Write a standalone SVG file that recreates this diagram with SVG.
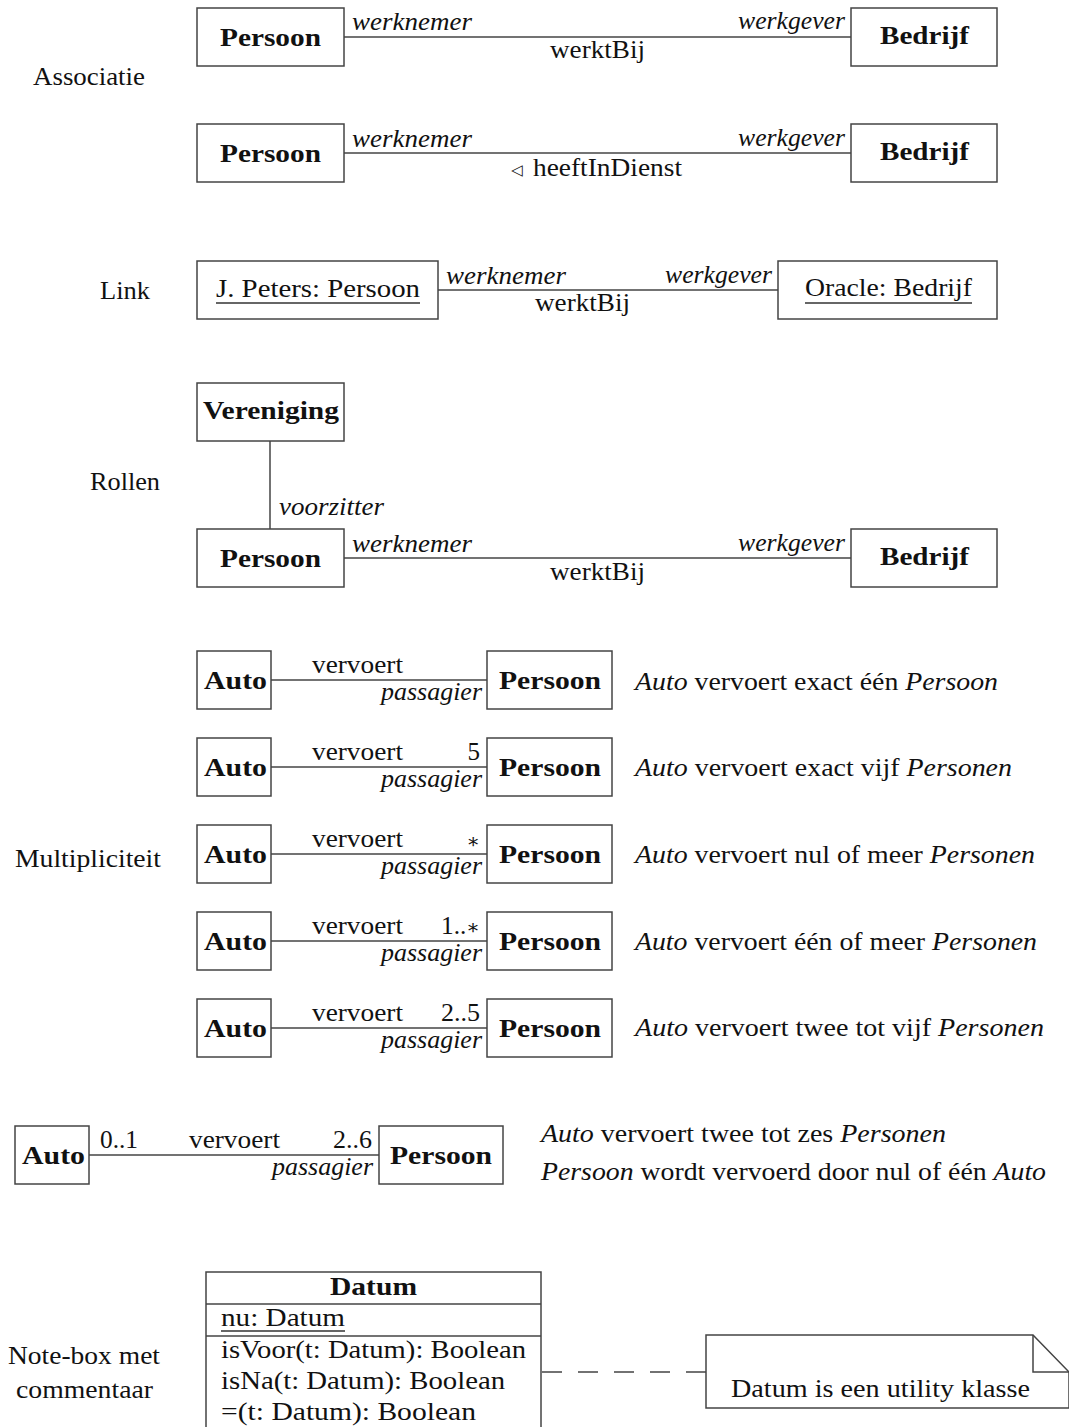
<svg xmlns="http://www.w3.org/2000/svg" width="1069" height="1427" viewBox="0 0 1069 1427">
  <style>
    .box { fill: #ffffff; stroke: #444444; stroke-width: 1.5; }
    .edge { fill: none; stroke: #444444; stroke-width: 1.5; }
    .dash { fill: none; stroke: #444444; stroke-width: 1.5; stroke-dasharray: 20 16; }
    text { font-family: "Liberation Serif", "DejaVu Serif", serif; font-size: 25px; fill: #111111; }
    .b { font-weight: bold; }
    .i { font-style: italic; }
    .u { fill: none; stroke: #333333; stroke-width: 1.3; }
    .sym { font-family: "DejaVu Sans", sans-serif; font-size: 15px; }
    .ast { font-family: "DejaVu Serif", serif; font-size: 20px; }
  </style>

  <!-- section captions -->
  <g id="captions">
    <text x="33" y="85" textLength="112" lengthAdjust="spacingAndGlyphs">Associatie</text>
    <text x="100" y="299" textLength="50" lengthAdjust="spacingAndGlyphs">Link</text>
    <text x="90" y="490" textLength="70" lengthAdjust="spacingAndGlyphs">Rollen</text>
    <text x="15" y="867" textLength="146" lengthAdjust="spacingAndGlyphs">Multipliciteit</text>
    <text x="8" y="1364" textLength="152" lengthAdjust="spacingAndGlyphs">Note-box met</text>
    <text x="16" y="1398" textLength="137" lengthAdjust="spacingAndGlyphs">commentaar</text>
  </g>

  <!-- connectors -->
  <g id="connectors">
    <line class="edge" x1="344" y1="37" x2="851" y2="37"/>
    <line class="edge" x1="344" y1="153" x2="851" y2="153"/>
    <line class="edge" x1="438" y1="290" x2="778" y2="290"/>
    <line class="edge" x1="270" y1="441" x2="270" y2="529"/>
    <line class="edge" x1="344" y1="558" x2="851" y2="558"/>
    <line class="edge" x1="271" y1="680" x2="487" y2="680"/>
    <line class="edge" x1="271" y1="767" x2="487" y2="767"/>
    <line class="edge" x1="271" y1="854" x2="487" y2="854"/>
    <line class="edge" x1="271" y1="941" x2="487" y2="941"/>
    <line class="edge" x1="271" y1="1028" x2="487" y2="1028"/>
    <line class="edge" x1="89" y1="1155" x2="379" y2="1155"/>
    <line class="dash" x1="542" y1="1372" x2="706" y2="1372"/>
  </g>

  <!-- connector labels -->
  <g id="connector-labels">
    <!-- association 1 -->
    <text class="i" x="352" y="30" textLength="120" lengthAdjust="spacingAndGlyphs">werknemer</text>
    <text class="i" x="738" y="29" textLength="107" lengthAdjust="spacingAndGlyphs">werkgever</text>
    <text x="550" y="58" textLength="95" lengthAdjust="spacingAndGlyphs">werktBij</text>
    <!-- association 2 -->
    <text class="i" x="352" y="147" textLength="120" lengthAdjust="spacingAndGlyphs">werknemer</text>
    <text class="i" x="738" y="146" textLength="107" lengthAdjust="spacingAndGlyphs">werkgever</text>
    <text class="sym" x="511" y="175">◁</text>
    <text x="533" y="176" textLength="149" lengthAdjust="spacingAndGlyphs">heeftInDienst</text>
    <!-- link -->
    <text class="i" x="446" y="284" textLength="120" lengthAdjust="spacingAndGlyphs">werknemer</text>
    <text class="i" x="665" y="283" textLength="107" lengthAdjust="spacingAndGlyphs">werkgever</text>
    <text x="535" y="311" textLength="95" lengthAdjust="spacingAndGlyphs">werktBij</text>
    <!-- roles -->
    <text class="i" x="279" y="515" textLength="105" lengthAdjust="spacingAndGlyphs">voorzitter</text>
    <text class="i" x="352" y="552" textLength="120" lengthAdjust="spacingAndGlyphs">werknemer</text>
    <text class="i" x="738" y="551" textLength="107" lengthAdjust="spacingAndGlyphs">werkgever</text>
    <text x="550" y="580" textLength="95" lengthAdjust="spacingAndGlyphs">werktBij</text>
    <!-- multiplicities -->
    <text x="312" y="673" textLength="91" lengthAdjust="spacingAndGlyphs">vervoert</text>
    <text class="i" x="381" y="700" textLength="101" lengthAdjust="spacingAndGlyphs">passagier</text>
    <text x="312" y="760" textLength="91" lengthAdjust="spacingAndGlyphs">vervoert</text>
    <text x="480" y="760" text-anchor="end">5</text>
    <text class="i" x="381" y="787" textLength="101" lengthAdjust="spacingAndGlyphs">passagier</text>
    <text x="312" y="847" textLength="91" lengthAdjust="spacingAndGlyphs">vervoert</text>
    <text class="ast" x="480" y="848" text-anchor="end">∗</text>
    <text class="i" x="381" y="874" textLength="101" lengthAdjust="spacingAndGlyphs">passagier</text>
    <text x="312" y="934" textLength="91" lengthAdjust="spacingAndGlyphs">vervoert</text>
    <text x="441" y="934" textLength="39" lengthAdjust="spacingAndGlyphs">1..<tspan class="ast">∗</tspan></text>
    <text class="i" x="381" y="961" textLength="101" lengthAdjust="spacingAndGlyphs">passagier</text>
    <text x="312" y="1021" textLength="91" lengthAdjust="spacingAndGlyphs">vervoert</text>
    <text x="441" y="1021" textLength="39" lengthAdjust="spacingAndGlyphs">2..5</text>
    <text class="i" x="381" y="1048" textLength="101" lengthAdjust="spacingAndGlyphs">passagier</text>
    <!-- two-sided multiplicity -->
    <text x="100" y="1148" textLength="38" lengthAdjust="spacingAndGlyphs">0..1</text>
    <text x="189" y="1148" textLength="91" lengthAdjust="spacingAndGlyphs">vervoert</text>
    <text x="333" y="1148" textLength="39" lengthAdjust="spacingAndGlyphs">2..6</text>
    <text class="i" x="272" y="1175" textLength="101" lengthAdjust="spacingAndGlyphs">passagier</text>
  </g>

  <!-- association -->
  <g id="persoon-1"><rect class="box" x="197" y="8" width="147" height="58"/><text class="b" x="220" y="46" textLength="101" lengthAdjust="spacingAndGlyphs">Persoon</text></g>
  <g id="bedrijf-1"><rect class="box" x="851" y="8" width="146" height="58"/><text class="b" x="880" y="44" textLength="89" lengthAdjust="spacingAndGlyphs">Bedrijf</text></g>
  <g id="persoon-2"><rect class="box" x="197" y="124" width="147" height="58"/><text class="b" x="220" y="162" textLength="101" lengthAdjust="spacingAndGlyphs">Persoon</text></g>
  <g id="bedrijf-2"><rect class="box" x="851" y="124" width="146" height="58"/><text class="b" x="880" y="160" textLength="89" lengthAdjust="spacingAndGlyphs">Bedrijf</text></g>

  <!-- link between objects -->
  <g id="jpeters"><rect class="box" x="197" y="261" width="241" height="58"/><text x="216" y="297" textLength="204" lengthAdjust="spacingAndGlyphs">J. Peters: Persoon</text><line class="u" x1="216" y1="303" x2="420" y2="303"/></g>
  <g id="oracle"><rect class="box" x="778" y="261" width="219" height="58"/><text x="805" y="296" textLength="167" lengthAdjust="spacingAndGlyphs">Oracle: Bedrijf</text><line class="u" x1="805" y1="303" x2="972" y2="303"/></g>

  <!-- roles -->
  <g id="vereniging"><rect class="box" x="197" y="383" width="147" height="58"/><text class="b" x="203" y="419" textLength="136" lengthAdjust="spacingAndGlyphs">Vereniging</text></g>
  <g id="persoon-3"><rect class="box" x="197" y="529" width="147" height="58"/><text class="b" x="220" y="567" textLength="101" lengthAdjust="spacingAndGlyphs">Persoon</text></g>
  <g id="bedrijf-3"><rect class="box" x="851" y="529" width="146" height="58"/><text class="b" x="880" y="565" textLength="89" lengthAdjust="spacingAndGlyphs">Bedrijf</text></g>

  <!-- multiplicity rows -->
  <g id="auto-1"><rect class="box" x="197" y="651" width="74" height="58"/><text class="b" x="204" y="689" textLength="63" lengthAdjust="spacingAndGlyphs">Auto</text></g>
  <g id="persoon-m1"><rect class="box" x="487" y="651" width="125" height="58"/><text class="b" x="499" y="689" textLength="102" lengthAdjust="spacingAndGlyphs">Persoon</text></g>
  <g id="auto-2"><rect class="box" x="197" y="738" width="74" height="58"/><text class="b" x="204" y="776" textLength="63" lengthAdjust="spacingAndGlyphs">Auto</text></g>
  <g id="persoon-m2"><rect class="box" x="487" y="738" width="125" height="58"/><text class="b" x="499" y="776" textLength="102" lengthAdjust="spacingAndGlyphs">Persoon</text></g>
  <g id="auto-3"><rect class="box" x="197" y="825" width="74" height="58"/><text class="b" x="204" y="863" textLength="63" lengthAdjust="spacingAndGlyphs">Auto</text></g>
  <g id="persoon-m3"><rect class="box" x="487" y="825" width="125" height="58"/><text class="b" x="499" y="863" textLength="102" lengthAdjust="spacingAndGlyphs">Persoon</text></g>
  <g id="auto-4"><rect class="box" x="197" y="912" width="74" height="58"/><text class="b" x="204" y="950" textLength="63" lengthAdjust="spacingAndGlyphs">Auto</text></g>
  <g id="persoon-m4"><rect class="box" x="487" y="912" width="125" height="58"/><text class="b" x="499" y="950" textLength="102" lengthAdjust="spacingAndGlyphs">Persoon</text></g>
  <g id="auto-5"><rect class="box" x="197" y="999" width="74" height="58"/><text class="b" x="204" y="1037" textLength="63" lengthAdjust="spacingAndGlyphs">Auto</text></g>
  <g id="persoon-m5"><rect class="box" x="487" y="999" width="125" height="58"/><text class="b" x="499" y="1037" textLength="102" lengthAdjust="spacingAndGlyphs">Persoon</text></g>

  <g id="descriptions">
    <text x="635" y="690" textLength="363" lengthAdjust="spacingAndGlyphs"><tspan class="i">Auto</tspan> vervoert exact één <tspan class="i">Persoon</tspan></text>
    <text x="635" y="776" textLength="377" lengthAdjust="spacingAndGlyphs"><tspan class="i">Auto</tspan> vervoert exact vijf <tspan class="i">Personen</tspan></text>
    <text x="635" y="863" textLength="400" lengthAdjust="spacingAndGlyphs"><tspan class="i">Auto</tspan> vervoert nul of meer <tspan class="i">Personen</tspan></text>
    <text x="635" y="950" textLength="402" lengthAdjust="spacingAndGlyphs"><tspan class="i">Auto</tspan> vervoert één of meer <tspan class="i">Personen</tspan></text>
    <text x="635" y="1036" textLength="409" lengthAdjust="spacingAndGlyphs"><tspan class="i">Auto</tspan> vervoert twee tot vijf <tspan class="i">Personen</tspan></text>
    <text x="541" y="1142" textLength="405" lengthAdjust="spacingAndGlyphs"><tspan class="i">Auto</tspan> vervoert twee tot zes <tspan class="i">Personen</tspan></text>
    <text x="541" y="1180" textLength="505" lengthAdjust="spacingAndGlyphs"><tspan class="i">Persoon</tspan> wordt vervoerd door nul of één <tspan class="i">Auto</tspan></text>
  </g>

  <!-- two-sided multiplicity -->
  <g id="auto-6"><rect class="box" x="15" y="1126" width="74" height="58"/><text class="b" x="22" y="1164" textLength="63" lengthAdjust="spacingAndGlyphs">Auto</text></g>
  <g id="persoon-m6"><rect class="box" x="379" y="1126" width="124" height="58"/><text class="b" x="390" y="1164" textLength="102" lengthAdjust="spacingAndGlyphs">Persoon</text></g>

  <!-- utility class with note -->
  <g id="datum">
    <rect class="box" x="206" y="1272" width="335" height="170"/>
    <line class="edge" x1="206" y1="1304" x2="541" y2="1304"/>
    <line class="edge" x1="206" y1="1336" x2="541" y2="1336"/>
    <text class="b" x="330" y="1295" textLength="87" lengthAdjust="spacingAndGlyphs">Datum</text>
    <text x="221" y="1326" textLength="124" lengthAdjust="spacingAndGlyphs">nu: Datum</text>
    <line class="u" x1="221" y1="1331" x2="345" y2="1331"/>
    <text x="221" y="1358" textLength="305" lengthAdjust="spacingAndGlyphs">isVoor(t: Datum): Boolean</text>
    <text x="221" y="1389" textLength="284" lengthAdjust="spacingAndGlyphs">isNa(t: Datum): Boolean</text>
    <text x="221" y="1420" textLength="255" lengthAdjust="spacingAndGlyphs">=(t: Datum): Boolean</text>
  </g>
  <g id="note">
    <path class="box" d="M706 1335 H1033 L1069 1372 V1408 H706 Z"/>
    <path class="edge" d="M1033 1335 V1372 H1069"/>
    <text x="731" y="1397" textLength="299" lengthAdjust="spacingAndGlyphs">Datum is een utility klasse</text>
  </g>
</svg>
